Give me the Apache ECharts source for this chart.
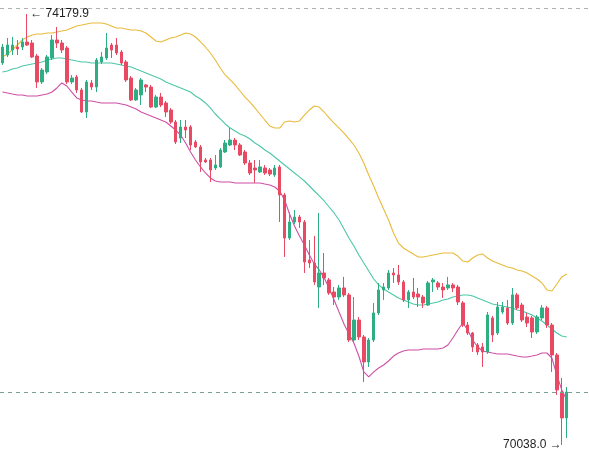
<!DOCTYPE html>
<html>
<head>
<meta charset="utf-8">
<script src="https://cdn.jsdelivr.net/npm/echarts@6/dist/echarts.min.js"></script>
<style>
  html, body { margin: 0; padding: 0; background: #fff; }
  #chart { width: 589px; height: 466px; }
</style>
</head>
<body>
<div id="chart"></div>
<script>
// candle values, one per bar (left to right)
const opens = [
  73709, 73786, 73834, 73863, 73863, 73911, 73901, 73776, 73527, 73623,
  73757, 73930, 73901, 73853, 73527, 73575, 73450, 73238, 73517, 73478,
  73719, 73757, 73882, 73882, 73815, 73719, 73565, 73354, 73402, 73498,
  73478, 73286, 73382, 73325, 73257, 73142, 72988, 73094, 73094, 72950,
  72902, 72777, 72777, 72700, 72710, 72854, 72921, 72969, 72921, 72854,
  72748, 72700, 72662, 72700, 72681, 72633, 72710, 72441, 72027, 72181,
  72229, 72181, 71816, 71787, 71556, 71691, 71624, 71508, 71460, 71547,
  71480, 71047, 71239, 71076, 70836, 71047, 71307, 71528, 71547, 71691,
  71672, 71605, 71432, 71508, 71489, 71460, 71383, 71605, 71595, 71556,
  71547, 71576, 71556, 71403, 71191, 71114, 70999, 70980, 70932, 71259,
  71114, 71316, 71355, 71210, 71480, 71383, 71268, 71259, 71124, 71259,
  71355, 71191, 70903, 70547, 70298
];
const closes = [
  73863, 73882, 73882, 73844, 73911, 73882, 73767, 73527, 73642, 73767,
  73930, 73901, 73834, 73527, 73565, 73450, 73238, 73527, 73478, 73738,
  73767, 73853, 73834, 73805, 73709, 73546, 73354, 73450, 73546, 73478,
  73286, 73382, 73305, 73238, 73142, 72950, 73094, 73065, 72921, 72902,
  72758, 72758, 72681, 72729, 72873, 72940, 72969, 72921, 72825, 72748,
  72652, 72681, 72710, 72652, 72642, 72700, 72441, 72027, 72181, 72229,
  72181, 71797, 71787, 71605, 71691, 71643, 71499, 71460, 71547, 71480,
  71047, 71239, 71076, 70836, 71047, 71307, 71528, 71556, 71691, 71672,
  71605, 71432, 71508, 71460, 71460, 71403, 71595, 71624, 71556, 71528,
  71576, 71547, 71412, 71191, 71114, 70980, 70932, 70932, 71287, 71095,
  71364, 71364, 71210, 71480, 71355, 71239, 71210, 71124, 71268, 71355,
  71191, 70903, 70567, 70298, 70547
];
const lows = [
  73690, 73767, 73786, 73786, 73834, 73872, 73757, 73469, 73507, 73603,
  73738, 73853, 73805, 73507, 73507, 73421, 73229, 73181, 73450, 73430,
  73700, 73738, 73757, 73786, 73690, 73527, 73344, 73344, 73305, 73430,
  73277, 73277, 73286, 73190, 73123, 72931, 72940, 72988, 72873, 72892,
  72662, 72748, 72565, 72681, 72700, 72844, 72911, 72873, 72815, 72729,
  72633, 72556, 72652, 72633, 72623, 72614, 72181, 71845, 72008, 72162,
  72123, 71691, 71739, 71576, 71355, 71576, 71480, 71383, 71432, 71460,
  71028, 71028, 71047, 70644, 70788, 71028, 71287, 71432, 71528, 71595,
  71576, 71412, 71355, 71441, 71364, 71355, 71374, 71508, 71528, 71451,
  71528, 71508, 71383, 71172, 71095, 70932, 70903, 70788, 70913, 71028,
  71095, 71297, 71191, 71191, 71335, 71220, 71172, 71066, 71105, 71239,
  71162, 70740, 70519, 70038.0, 70105
];
const highs = [
  73892, 73949, 73959, 73930, 73949, 74179.9, 73930, 73796, 73661, 73786,
  73978, 74055, 73930, 73872, 73594, 73594, 73469, 73546, 73546, 73757,
  73815, 73997, 73901, 73949, 73834, 73738, 73584, 73469, 73565, 73507,
  73498, 73402, 73421, 73344, 73277, 73161, 73161, 73161, 73113, 72969,
  72921, 72796, 72796, 72825, 72892, 72969, 73084, 72988, 72940, 72873,
  72777, 72777, 72777, 72729, 72700, 72729, 72729, 72460, 72277, 72296,
  72248, 72200, 72008, 72047, 72268, 71883, 71643, 71556, 71576, 71653,
  71499, 71460, 71268, 71095, 71066, 71403, 71595, 71595, 71720, 71739,
  71768, 71624, 71528, 71643, 71547, 71480, 71614, 71643, 71614, 71595,
  71653, 71595, 71576, 71422, 71220, 71124, 71018, 71018, 71316, 71278,
  71412, 71412, 71432, 71547, 71499, 71403, 71307, 71278, 71287, 71383,
  71374, 71210, 70922, 70682, 70595
];

// bollinger bands as drawn
const bollUpper = [
  73767, 73796, 73834, 73882, 73930, 73959, 73978, 73988, 73988, 73997,
  73997, 74007, 74017, 74026, 74045, 74065, 74074, 74084, 74094, 74094,
  74094, 74084, 74065, 74045, 74045, 74036, 74026, 74026, 74017, 73997,
  73959, 73920, 73911, 73930, 73949, 73959, 73978, 73997, 73988, 73959,
  73911, 73863, 73805, 73738, 73661, 73594, 73546, 73498, 73440, 73382,
  73334, 73277, 73219, 73161, 73104, 73084, 73084, 73142, 73152, 73142,
  73152, 73209, 73257, 73296, 73286, 73238, 73181, 73132, 73084, 73036,
  72979, 72921, 72844, 72748, 72633, 72527, 72412, 72306, 72200, 72075,
  71979, 71931, 71902, 71874, 71845, 71845, 71854, 71864, 71874, 71883,
  71883, 71883, 71854, 71806, 71797, 71835, 71864, 71874, 71835, 71806,
  71787, 71768, 71749, 71739, 71720, 71710, 71691, 71662, 71633, 71595,
  71528, 71518, 71585, 71653, 71681
];
const bollMid = [
  73623, 73632, 73651, 73661, 73680, 73690, 73700, 73709, 73719, 73738,
  73748, 73757, 73757, 73748, 73738, 73728, 73719, 73719, 73709, 73709,
  73709, 73709, 73709, 73700, 73690, 73680, 73671, 73651, 73632, 73613,
  73594, 73575, 73555, 73527, 73507, 73488, 73469, 73450, 73430, 73392,
  73363, 73325, 73277, 73219, 73171, 73123, 73084, 73056, 73027, 73008,
  72979, 72940, 72911, 72873, 72844, 72806, 72767, 72729, 72690, 72652,
  72614, 72575, 72527, 72479, 72431, 72383, 72325, 72268, 72200, 72114,
  72027, 71950, 71864, 71787, 71710, 71633, 71576, 71537, 71508, 71480,
  71451, 71432, 71412, 71393, 71383, 71383, 71393, 71403, 71412, 71432,
  71441, 71460, 71470, 71480, 71480, 71470, 71451, 71432, 71412, 71393,
  71383, 71374, 71364, 71355, 71335, 71326, 71307, 71287, 71259, 71230,
  71191, 71153, 71114, 71086, 71076
];
const bollLower = [
  73430, 73421, 73411, 73402, 73402, 73392, 73392, 73392, 73402, 73411,
  73430, 73469, 73517, 73488, 73430, 73373, 73354, 73344, 73344, 73334,
  73325, 73325, 73325, 73325, 73315, 73305, 73286, 73267, 73238, 73219,
  73200, 73181, 73161, 73142, 73104, 73065, 73017, 72940, 72854, 72777,
  72710, 72652, 72604, 72575, 72565, 72565, 72565, 72556, 72556, 72556,
  72556, 72556, 72556, 72546, 72537, 72517, 72479, 72393, 72258, 72143,
  72047, 71960, 71864, 71778, 71720, 71643, 71547, 71432, 71316, 71201,
  71105, 71018, 70893, 70740, 70692, 70740, 70778, 70807, 70845, 70893,
  70922, 70941, 70951, 70951, 70951, 70961, 70961, 70961, 70961, 70970,
  70999, 71066, 71143, 71210, 71143, 71047, 70980, 70941, 70932, 70922,
  70913, 70913, 70913, 70903, 70893, 70884, 70884, 70893, 70903, 70922,
  70922, 70874, 70711, 70567, 70471
];

// visible price window and the upper guide line
const priceMin = 69836;
const priceMax = 74314.5;
const topGuide = 74237.6;
const emptySlotsRight = 4;

const upColor = '#2eae83';
const downColor = '#e84a63';

const candleData = opens.map(function (o, i) {
  return [o, closes[i], lows[i], highs[i]];
});
const categories = [];
for (let i = 0; i < opens.length + emptySlotsRight; i++) {
  categories.push(String(i));
}
const lastClose = closes[closes.length - 1];

var myChart = echarts.init(document.getElementById('chart'));

myChart.setOption({
  animation: false,
  grid: { left: 0, right: 0, top: 0, bottom: 0 },
  xAxis: {
    type: 'category',
    data: categories,
    show: false
  },
  yAxis: {
    type: 'value',
    min: priceMin,
    max: priceMax,
    show: false
  },
  series: [
    {
      name: 'UP',
      type: 'line',
      data: bollUpper,
      symbol: 'none',
      z: 1,
      lineStyle: { color: '#e8bb3c', width: 1.1 }
    },
    {
      name: 'MB',
      type: 'line',
      data: bollMid,
      symbol: 'none',
      z: 1,
      lineStyle: { color: '#4cc7a8', width: 1.1 }
    },
    {
      name: 'DN',
      type: 'line',
      data: bollLower,
      symbol: 'none',
      z: 1,
      lineStyle: { color: '#cf4fa6', width: 1.1 }
    },
    {
      name: 'K',
      type: 'candlestick',
      data: candleData,
      barWidth: 3,
      z: 3,
      itemStyle: {
        color: upColor,
        color0: downColor,
        borderColor: upColor,
        borderColor0: downColor,
        borderWidth: 1
      },
      markPoint: {
        symbol: 'circle',
        symbolSize: 0,
        silent: true,
        label: {
          color: '#1e1e1e',
          fontSize: 12,
          fontFamily: 'Liberation Sans, Arial, sans-serif'
        },
        data: [
          {
            type: 'max',
            valueDim: 'highest',
            label: {
              position: 'right',
              distance: 3,
              formatter: function (p) { return '\u2190 ' + p.value.toFixed(1); }
            }
          },
          {
            type: 'min',
            valueDim: 'lowest',
            label: {
              position: 'left',
              distance: 0,
              formatter: function (p) { return p.value.toFixed(1) + ' \u2192'; }
            }
          }
        ]
      },
      markLine: {
        symbol: ['none', 'none'],
        silent: true,
        label: { show: false },
        data: [
          { yAxis: lastClose, lineStyle: { color: '#7a9e98', type: [4, 4], width: 1 } },
          { yAxis: topGuide, lineStyle: { color: '#b0b0b0', type: [4, 4], width: 1 } }
        ]
      }
    }
  ]
});
</script>
</body>
</html>
